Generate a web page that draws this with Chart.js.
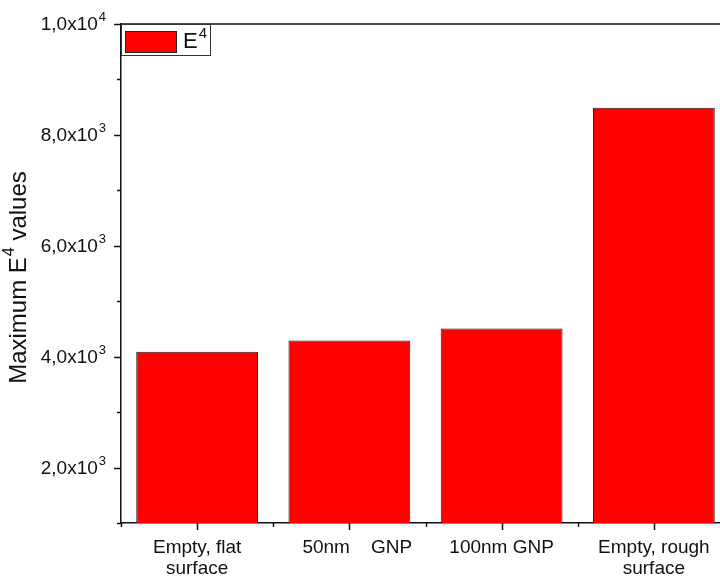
<!DOCTYPE html>
<html>
<head>
<meta charset="utf-8">
<script src="https://cdn.jsdelivr.net/npm/chart.js@4/dist/chart.umd.min.js"></script>
<style>
  html, body { margin: 0; padding: 0; background: #fff; overflow: hidden; }
  #wrap { width: 720px; height: 577px; overflow: hidden; }
  canvas { display: block; }
</style>
</head>
<body>
<div id="wrap"><canvas id="barChart" width="740" height="577"></canvas></div>
<script>
// data
var categories = [['Empty, flat', 'surface'], '   50nm    GNP', '100nm GNP', ['Empty, rough', 'surface']];
var e4Values = [4090, 4290, 4510, 8490];
var yTicks = [1000, 2000, 3000, 4000, 5000, 6000, 7000, 8000, 9000, 10000];
var yLabelTicks = [2000, 4000, 6000, 8000, 10000];
var seriesLabel = 'E';

var FONT = '"Liberation Sans", Arial, sans-serif';
var INK = '#111';

// label like 2,0x10^3 -> [mantissa text, exponent]
function sciParts(v) {
    var exp = Math.floor(Math.log10(v));
    var m = (v / Math.pow(10, exp)).toFixed(1).replace('.', ',');
    return [m + 'x10', String(exp)];
}

// draws text with a raised superscript, right/left aligned at x
function drawSup(ctx, main, sup, x, y, size, align) {
    ctx.font = size + 'px ' + FONT;
    var w1 = ctx.measureText(main).width;
    var supSize = Math.round(size * 0.7);
    ctx.font = supSize + 'px ' + FONT;
    var w2 = ctx.measureText(sup).width;
    var total = w1 + 1 + w2;
    var x0 = align === 'right' ? x - total : x;
    ctx.textAlign = 'left';
    ctx.textBaseline = 'middle';
    ctx.font = size + 'px ' + FONT;
    ctx.fillText(main, x0, y);
    ctx.font = supSize + 'px ' + FONT;
    ctx.fillText(sup, x0 + w1 + 1, y - size * 0.38);
}

var decorPlugin = {
    id: 'decor',
    afterDraw: function(chart) {
        var ctx = chart.ctx;
        var area = chart.chartArea;
        var xs = chart.scales.x;
        var ys = chart.scales.y;
        ctx.save();
        ctx.strokeStyle = INK;
        ctx.fillStyle = INK;
        ctx.lineWidth = 1.5;

        // top frame (right side falls outside the picture)
        ctx.beginPath();
        ctx.moveTo(area.left, area.top);
        ctx.lineTo(area.right, area.top);
        ctx.stroke();

        // y ticks, outward
        yTicks.forEach(function(v) {
            var py = Math.round(ys.getPixelForValue(v)) + 0.5;
            var len = yLabelTicks.indexOf(v) >= 0 ? 7 : 4;
            ctx.beginPath();
            ctx.moveTo(area.left - len, py);
            ctx.lineTo(area.left, py);
            ctx.stroke();
        });

        // x ticks: long at categories, short at boundaries
        for (var i = 0; i < categories.length; i++) {
            var px = Math.round(xs.getPixelForValue(i)) + 0.5;
            ctx.beginPath();
            ctx.moveTo(px, area.bottom);
            ctx.lineTo(px, area.bottom + 7);
            ctx.stroke();
        }
        for (var j = 0; j <= categories.length; j++) {
            var bx = Math.round(xs.getPixelForValue(j - 0.5)) + 0.5;
            ctx.beginPath();
            ctx.moveTo(bx, area.bottom);
            ctx.lineTo(bx, area.bottom + 4);
            ctx.stroke();
        }

        // y tick labels with superscript exponent
        yLabelTicks.forEach(function(v) {
            var p = sciParts(v);
            drawSup(ctx, p[0], p[1], area.left - 15, ys.getPixelForValue(v) + 1, 19, 'right');
        });

        // y axis title, rotated
        ctx.save();
        ctx.translate(19, (area.top + area.bottom) / 2 + 4);
        ctx.rotate(-Math.PI / 2);
        var size = 24;
        var supSize = Math.round(size * 0.68);
        ctx.font = size + 'px ' + FONT;
        var a = 'Maximum E', b = '4', c = ' values';
        var wa = ctx.measureText(a).width;
        var wc = ctx.measureText(c).width;
        ctx.font = supSize + 'px ' + FONT;
        var wb = ctx.measureText(b).width;
        var tot = wa + wb + 1 + wc;
        ctx.textBaseline = 'middle';
        ctx.textAlign = 'left';
        ctx.font = size + 'px ' + FONT;
        ctx.fillText(a, -tot / 2, 0);
        ctx.font = supSize + 'px ' + FONT;
        ctx.fillText(b, -tot / 2 + wa + 1, -size * 0.38);
        ctx.font = size + 'px ' + FONT;
        ctx.fillText(c, -tot / 2 + wa + wb + 1, 0);
        ctx.restore();

        // legend box in the top-left of the plot
        var ds = chart.data.datasets[0];
        var lx = area.left, ly = area.top;
        ctx.lineWidth = 1;
        ctx.strokeStyle = '#333';
        ctx.strokeRect(lx + 0.5, ly + 0.5, 89, 31);
        ctx.fillStyle = ds.backgroundColor;
        ctx.fillRect(lx + 4, ly + 7, 51, 21);
        ctx.strokeStyle = '#222';
        ctx.strokeRect(lx + 4.5, ly + 7.5, 51, 21);
        ctx.fillStyle = INK;
        drawSup(ctx, ds.label, '4', lx + 62, ly + 18, 22, 'left');

        ctx.restore();
    }
};

var ctx = document.getElementById('barChart').getContext('2d');
var chart = new Chart(ctx, {
    type: 'bar',
    data: {
        labels: categories,
        datasets: [{
            label: seriesLabel,
            data: e4Values,
            backgroundColor: '#ff0000',
            borderColor: '#222',
            borderWidth: 1,
            categoryPercentage: 0.8,
            barPercentage: 1.0
        }]
    },
    options: {
        responsive: false,
        animation: false,
        layout: { padding: { top: 24, right: 10, left: 0, bottom: 0 } },
        plugins: {
            legend: { display: false },
            tooltip: { enabled: false }
        },
        scales: {
            x: {
                grid: { display: false, drawTicks: false },
                border: { display: true, color: INK, width: 1.5 },
                ticks: {
                    color: INK,
                    font: { family: FONT, size: 19, lineHeight: 1.1 },
                    padding: 14,
                    maxRotation: 0,
                    autoSkip: false
                },
                afterFit: function(scale) { scale.height = 54; }
            },
            y: {
                min: 1000,
                max: 10000,
                grid: { display: false, drawTicks: false },
                border: { display: true, color: INK, width: 1.5 },
                ticks: { display: false, stepSize: 1000 },
                afterFit: function(scale) { scale.width = 121; }
            }
        }
    },
    plugins: [decorPlugin]
});
</script>
</body>
</html>
